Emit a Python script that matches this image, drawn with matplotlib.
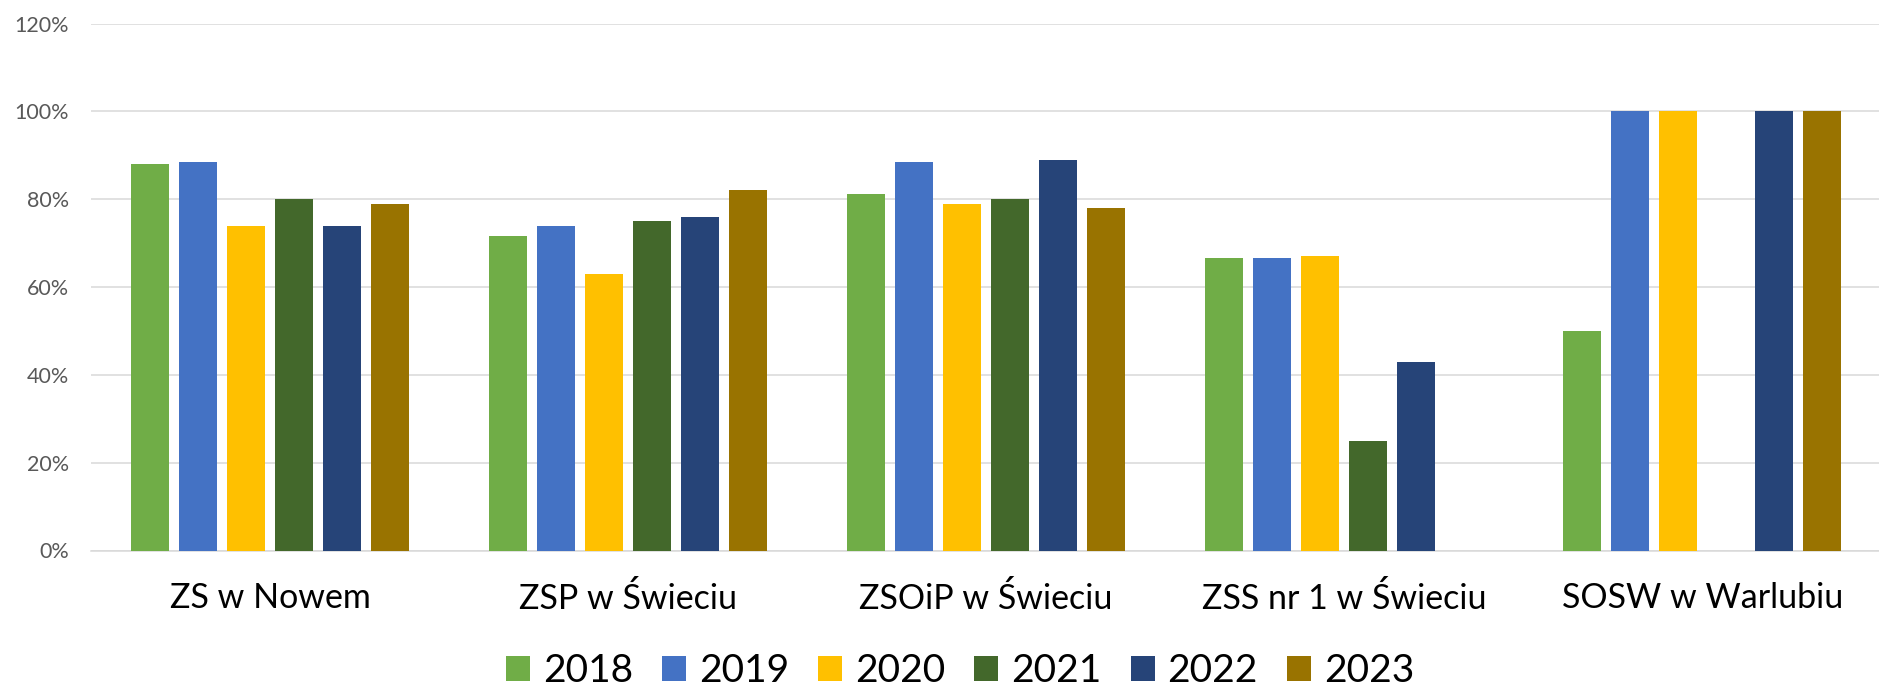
import matplotlib
matplotlib.use("Agg")
import matplotlib.pyplot as plt
import numpy as np
from matplotlib.ticker import PercentFormatter

categories = ["ZS w Nowem", "ZSP w Świeciu", "ZSOiP w Świeciu", "ZSS nr 1 w Świeciu", "SOSW w Warlubiu"]
years = ["2018", "2019", "2020", "2021", "2022", "2023"]
v2018 = [88.0, 71.7, 81.1, 66.6, 50.0]
v2019 = [88.4, 74.0, 88.5, 66.6, 100.0]
v2020 = [74.0, 63.0, 79.0, 67.0, 100.0]
v2021 = [80.0, 75.0, 80.0, 25.0, np.nan]
v2022 = [74.0, 76.0, 89.0, 43.0, 100.0]
v2023 = [79.0, 82.0, 78.0, np.nan, 100.0]
series = [v2018, v2019, v2020, v2021, v2022, v2023]
colors = ["#70AD47", "#4472C4", "#FFC000", "#43682B", "#264478", "#997300"]

W, H = 1879, 686
fig = plt.figure(figsize=(W / 100, H / 100), dpi=100)
ax = fig.add_axes([91 / W, (H - 550.5) / H, (W - 91) / W, (550.5 - 23.5) / H])

x = np.arange(len(categories))
pitch = 0.134
bw = 0.1047
for j, (vals, c, yr) in enumerate(zip(series, colors, years)):
    ax.bar(x + (j - 2.5) * pitch, np.array(vals) / 100.0, width=bw, color=c,
           label=yr, zorder=3, linewidth=0)

ax.set_xlim(-0.5, 4.494)
ax.set_ylim(0, 1.2)
ax.set_yticks(np.arange(0, 1.21, 0.2))
ax.yaxis.set_major_formatter(PercentFormatter(1.0, decimals=0))
ax.set_xticks(x)
ax.set_xticklabels(categories)
ax.grid(axis="y", color="#d9d9d9", linewidth=1.1, zorder=0)
for s in ["top", "right", "left"]:
    ax.spines[s].set_visible(False)
ax.spines["bottom"].set_color("#d9d9d9")
ax.spines["bottom"].set_linewidth(1.1)
ax.tick_params(axis="y", length=0, pad=16, labelsize=15.5, labelcolor="#595959")
ax.tick_params(axis="x", length=0, pad=23, labelsize=24.5, labelcolor="black")
for lab in ax.get_yticklabels() + ax.get_xticklabels():
    lab.set_fontfamily("Lato")

handles, labels = ax.get_legend_handles_labels()
leg = fig.legend(handles, labels, loc="center", ncol=6,
                 bbox_to_anchor=(960 / W, 1 - 671 / H), frameon=False,
                 prop={"family": "Lato", "size": 28},
                 handlelength=0.617, handleheight=0.617, handletextpad=0.33,
                 columnspacing=0.75, borderaxespad=0, borderpad=0)

fig.savefig("out.png", dpi=100, facecolor="white")
